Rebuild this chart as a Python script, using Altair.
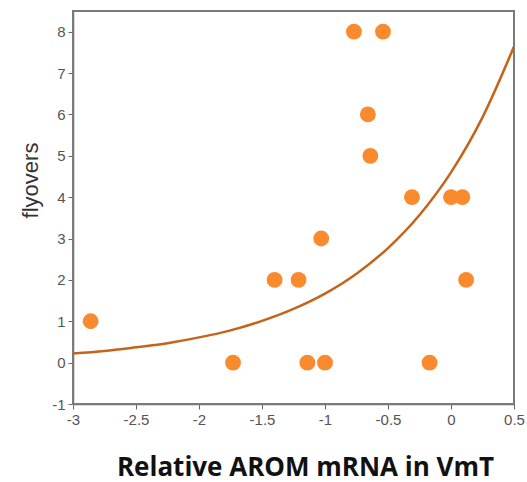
import altair as alt
import pandas as pd

# scatter points
arom = [-2.86, -1.73, -1.40, -1.21, -1.14, -1.03, -1.00, -0.77, -0.54, -0.66, -0.64, -0.31, -0.17, 0.00, 0.09, 0.12]
flyovers = [1, 0, 2, 2, 0, 3, 0, 8, 8, 6, 5, 4, 0, 4, 4, 2]

# fitted curve
curve_x = [-3.0, -2.75, -2.5, -2.25, -2.0, -1.75, -1.5, -1.25, -1.0, -0.75, -0.5, -0.25, 0.0, 0.25, 0.5]
curve_y = [0.22, 0.28, 0.37, 0.47, 0.61, 0.78, 1.01, 1.30, 1.67, 2.15, 2.77, 3.57, 4.60, 5.93, 7.64]

x_ticks = [-3, -2.5, -2, -1.5, -1, -0.5, 0, 0.5]
y_ticks = [-1, 0, 1, 2, 3, 4, 5, 6, 7, 8]

W, H = 441, 393

pts = pd.DataFrame({"x": arom, "y": flyovers})
crv = pd.DataFrame({"x": curve_x, "y": curve_y})

xscale = alt.Scale(domain=[-3, 0.5], nice=False, zero=False)
yscale = alt.Scale(domain=[-1, 8.5], nice=False, zero=False)

xaxis = alt.Axis(
    title="Relative AROM mRNA in VmT", values=x_ticks, grid=False,
    labelExpr="toString(datum.value)",
    labelFont="Liberation Sans", labelFontSize=15, labelColor="#555555",
    labelPadding=3, tickSize=5, tickColor="#666666", domainColor="#666666",
    domainWidth=1.5, labelFlush=False,
    titleFont="Open Sans", titleFontSize=26, titleFontWeight="bold", titleColor="#111111",
    titleX=232, titleY=71, titleAnchor="middle", titleBaseline="alphabetic",
)
yaxis = alt.Axis(
    title="flyovers", values=y_ticks, grid=False,
    labelExpr="toString(datum.value)",
    labelFont="Liberation Sans", labelFontSize=15, labelColor="#555555",
    labelPadding=3, tickSize=5, tickColor="#666666", domainColor="#666666",
    domainWidth=1.5, labelFlush=False,
    titleFont="Liberation Sans", titleFontSize=22, titleFontWeight="normal", titleColor="#333333",
    titleX=-31, titleY=169, titleAngle=-90, titleBaseline="bottom", titleAlign="center",
)

frame = alt.Chart(pts.head(1)).mark_rect(fillOpacity=0, stroke="#7a7a7a", strokeWidth=2).encode(
    x=alt.value(0), x2=alt.value(W), y=alt.value(0), y2=alt.value(H)
)
line = alt.Chart(crv).mark_line(color="#C4641A", strokeWidth=2.5, clip=True, interpolate="monotone").encode(
    x=alt.X("x:Q", scale=xscale, axis=xaxis),
    y=alt.Y("y:Q", scale=yscale, axis=yaxis),
)
points = alt.Chart(pts).mark_circle(color="#FA8A2E", opacity=1, size=250).encode(
    x=alt.X("x:Q", scale=xscale),
    y=alt.Y("y:Q", scale=yscale),
)

chart = alt.layer(frame, line, points).properties(
    width=W, height=H,
    autosize=alt.AutoSizeParams(type="none"),
    padding={"left": 73, "top": 11, "right": 13, "bottom": 78},
).configure(background="white").configure_view(stroke=None)

chart.save("out.html", embed_options={"renderer": "svg", "actions": False})
